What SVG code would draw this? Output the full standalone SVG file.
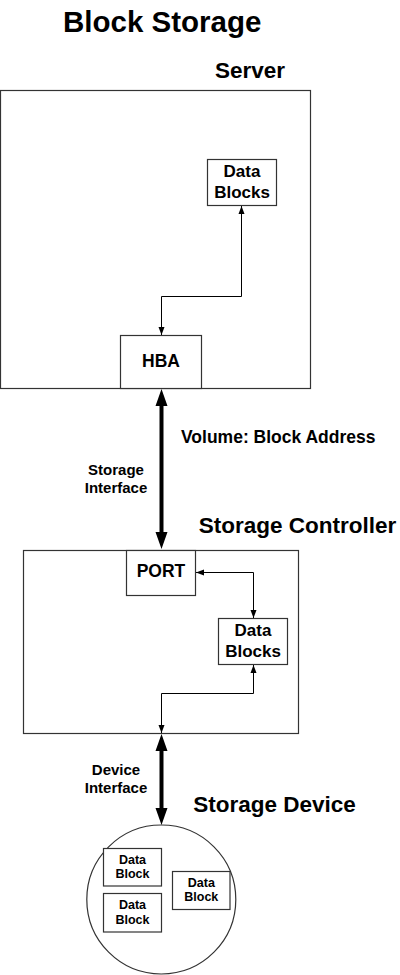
<svg xmlns="http://www.w3.org/2000/svg" width="400" height="975" viewBox="0 0 400 975">
<defs>
<style>
text{font-family:"Liberation Sans",Arial,sans-serif;font-weight:bold;fill:#000}
.box{fill:#fff;stroke:#333;stroke-width:1.2}
.c{text-anchor:middle}
.thin{fill:none;stroke:#000;stroke-width:1}
.thick{fill:none;stroke:#000;stroke-width:4}
</style>
<marker id="a" markerUnits="userSpaceOnUse" markerWidth="10" markerHeight="8" viewBox="0 -4 9 8" refX="8" refY="0" orient="auto-start-reverse"><path d="M0,-3 L8,0 L0,3 Z" fill="#000"/></marker>
<marker id="A" markerUnits="userSpaceOnUse" markerWidth="18" markerHeight="14" viewBox="0 -7 18 14" refX="0" refY="0" orient="auto-start-reverse"><path d="M0,-6 L17,0 L0,6 Z" fill="#000"/></marker>
</defs>
<rect width="400" height="975" fill="#fff"/>
<text x="63" y="32" font-size="29.5">Block Storage</text>

<g id="server">
<rect class="box" x="0.5" y="90.5" width="310" height="298"/>
<text x="215" y="77.7" font-size="22.5">Server</text>
</g>
<g id="server-data-blocks">
<rect class="box" x="207.5" y="159.5" width="69" height="46"/>
<text class="c" x="242" y="176.7" font-size="17">Data</text>
<text class="c" x="242" y="198.3" font-size="17">Blocks</text>
</g>
<g id="hba">
<rect class="box" x="120.5" y="335.5" width="81" height="53"/>
<text class="c" x="161" y="366.7" font-size="17.5">HBA</text>
</g>
<g id="controller">
<rect class="box" x="23.5" y="550.5" width="275" height="183"/>
<text x="198.7" y="532.7" font-size="22.5">Storage Controller</text>
</g>
<g id="port">
<rect class="box" x="126.5" y="550.5" width="69" height="45"/>
<text class="c" x="161" y="577.3" font-size="17.5">PORT</text>
</g>
<g id="controller-data-blocks">
<rect class="box" x="218.5" y="618.5" width="69" height="46"/>
<text class="c" x="253" y="635.7" font-size="17">Data</text>
<text class="c" x="253" y="656.7" font-size="17">Blocks</text>
</g>
<g id="device">
<circle cx="161.3" cy="899.5" r="74.5" fill="#fff" stroke="#333" stroke-width="1.2"/>
<text x="193.3" y="811.7" font-size="22.5">Storage Device</text>
</g>
<g id="block1">
<rect class="box" x="103.5" y="848.5" width="58" height="37.5"/>
<text class="c" x="132.5" y="864.3" font-size="12.5">Data</text>
<text class="c" x="132.5" y="878.3" font-size="12.5">Block</text>
</g>
<g id="block2">
<rect class="box" x="103.5" y="893.5" width="58" height="38.5"/>
<text class="c" x="132.5" y="909.3" font-size="12.5">Data</text>
<text class="c" x="132.5" y="924" font-size="12.5">Block</text>
</g>
<g id="block3">
<rect class="box" x="172.5" y="871.5" width="57.5" height="38"/>
<text class="c" x="201.3" y="886.7" font-size="12.5">Data</text>
<text class="c" x="201.3" y="901.3" font-size="12.5">Block</text>
</g>

<g id="connectors">
<path class="thin" d="M241.5,206 V296.5 H161.5 V335" marker-start="url(#a)" marker-end="url(#a)"/>
<path class="thin" d="M196,572.5 H253.5 V618" marker-start="url(#a)" marker-end="url(#a)"/>
<path class="thin" d="M253.5,665 V693.5 H161.5 V733" marker-start="url(#a)" marker-end="url(#a)"/>
<path class="thick" d="M161.5,406 V532" marker-start="url(#A)" marker-end="url(#A)"/>
<path class="thick" d="M161.5,751 V808" marker-start="url(#A)" marker-end="url(#A)"/>
<text x="181" y="442.7" font-size="17.5">Volume: Block Address</text>
<text class="c" x="116" y="475" font-size="15">Storage</text>
<text class="c" x="116" y="493.3" font-size="15">Interface</text>
<text class="c" x="116" y="775" font-size="15">Device</text>
<text class="c" x="116" y="792.7" font-size="15">Interface</text>
</g>
</svg>
